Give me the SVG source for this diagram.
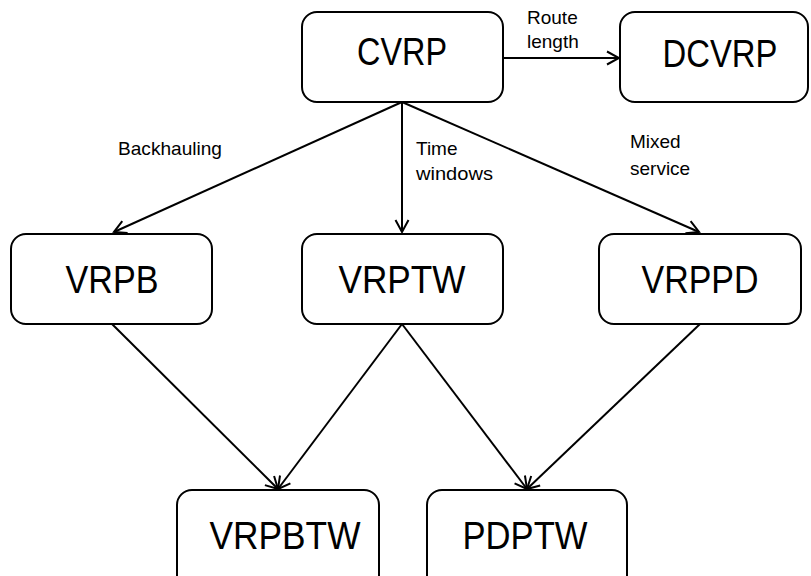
<svg xmlns="http://www.w3.org/2000/svg" width="811" height="576" viewBox="0 0 811 576">
  <style>
    .box { fill: #ffffff; stroke: #000000; stroke-width: 2; }
    .name { font-family: "Liberation Sans", Arial, sans-serif; font-size: 38px; fill: #000000; text-anchor: middle; }
    .lbl { font-family: "Liberation Sans", Arial, sans-serif; font-size: 19px; fill: #000000; }
    .edge { fill: none; stroke: #000000; stroke-width: 2; marker-end: url(#arrow); }
  </style>
  <defs>
    <marker id="arrow" markerUnits="userSpaceOnUse" viewBox="-14 -8 16 16" refX="0" refY="0" markerWidth="16" markerHeight="16" orient="auto">
      <path d="M-12,-6.5 L0,0 L-12,6.5" fill="none" stroke="#000000" stroke-width="2"/>
    </marker>
  </defs>
  <rect width="811" height="576" fill="#ffffff"/>

  <!-- connectors -->
  <g id="connectors">
    <line class="edge" x1="503" y1="58" x2="619" y2="58"/>
    <line class="edge" x1="402" y1="102" x2="114" y2="232"/>
    <line class="edge" x1="402" y1="102" x2="402" y2="232"/>
    <line class="edge" x1="402" y1="102" x2="699" y2="232"/>
    <line class="edge" x1="112" y1="324" x2="278" y2="489"/>
    <line class="edge" x1="402" y1="324" x2="278" y2="489"/>
    <line class="edge" x1="402" y1="324" x2="527" y2="489"/>
    <line class="edge" x1="700" y1="324" x2="527" y2="489"/>
  </g>

  <!-- edge labels -->
  <g id="labels">
    <text class="lbl" x="527" y="24">Route</text>
    <text class="lbl" x="527" y="48">length</text>
    <text class="lbl" x="118" y="155" textLength="104" lengthAdjust="spacingAndGlyphs">Backhauling</text>
    <text class="lbl" x="416" y="155">Time</text>
    <text class="lbl" x="416" y="180" textLength="77" lengthAdjust="spacingAndGlyphs">windows</text>
    <text class="lbl" x="630" y="148">Mixed</text>
    <text class="lbl" x="630" y="175">service</text>
  </g>

  <!-- nodes -->
  <g id="CVRP">
    <rect class="box" x="302" y="12" width="201" height="90" rx="15"/>
    <text class="name" x="402" y="65" textLength="90" lengthAdjust="spacingAndGlyphs">CVRP</text>
  </g>
  <g id="DCVRP">
    <rect class="box" x="620" y="12" width="188" height="90" rx="15"/>
    <text class="name" x="720" y="67" textLength="115" lengthAdjust="spacingAndGlyphs">DCVRP</text>
  </g>
  <g id="VRPB">
    <rect class="box" x="11" y="234" width="201" height="90" rx="15"/>
    <text class="name" x="112" y="293" textLength="93" lengthAdjust="spacingAndGlyphs">VRPB</text>
  </g>
  <g id="VRPTW">
    <rect class="box" x="302" y="234" width="201" height="90" rx="15"/>
    <text class="name" x="402" y="293" textLength="127" lengthAdjust="spacingAndGlyphs">VRPTW</text>
  </g>
  <g id="VRPPD">
    <rect class="box" x="599" y="234" width="202" height="90" rx="15"/>
    <text class="name" x="700" y="293" textLength="117" lengthAdjust="spacingAndGlyphs">VRPPD</text>
  </g>
  <g id="VRPBTW">
    <rect class="box" x="177" y="490" width="202" height="100" rx="15"/>
    <text class="name" x="285" y="549" textLength="151" lengthAdjust="spacingAndGlyphs">VRPBTW</text>
  </g>
  <g id="PDPTW">
    <rect class="box" x="427" y="490" width="200" height="100" rx="15"/>
    <text class="name" x="525" y="549" textLength="125" lengthAdjust="spacingAndGlyphs">PDPTW</text>
  </g>
</svg>
